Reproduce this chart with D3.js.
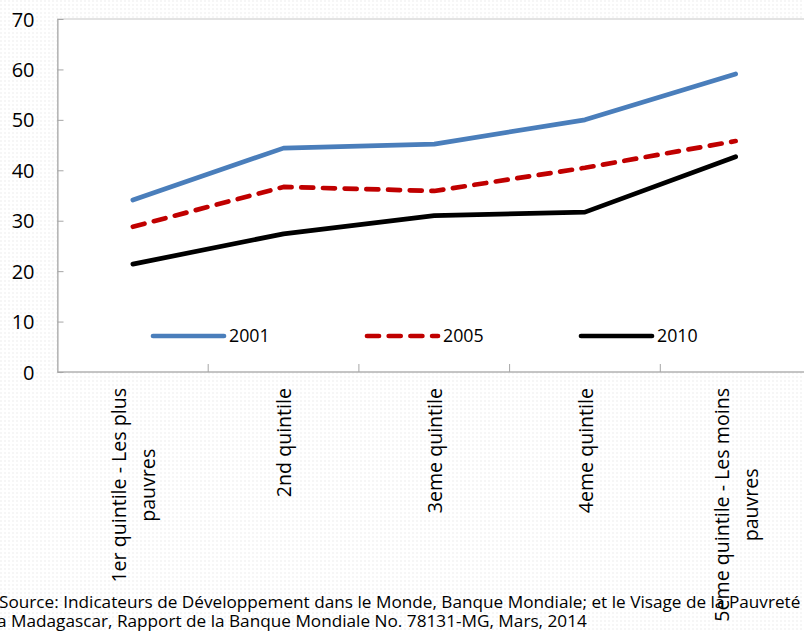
<!DOCTYPE html>
<html>
<head>
<meta charset="utf-8">
<script src="https://cdn.jsdelivr.net/npm/d3@7.9.0/dist/d3.min.js"></script>
<style>
  body { margin: 0; overflow: hidden; background: #fff; }
  svg { display: block; font-family: "Open Sans", sans-serif; }
</style>
</head>
<body>
<svg id="chart" width="804" height="631"></svg>
<script>
// categories (multi-line labels split on \n)
const categories = [
  '1er quintile - Les plus\npauvres',
  '2nd quintile',
  '3eme quintile',
  '4eme quintile',
  '5eme quintile - Les moins\npauvres'
];
const years = ['2001', '2005', '2010'];
const values2001 = [34.1, 44.4, 45.2, 50.0, 59.1];
const values2005 = [28.8, 36.7, 35.9, 40.5, 45.8];
const values2010 = [21.4, 27.4, 31.0, 31.7, 42.7];
const yTicks = [0, 10, 20, 30, 40, 50, 60, 70];
const sourceLines = [
  'Source: Indicateurs de Développement dans le Monde, Banque Mondiale; et le Visage de la Pauvreté',
  'a Madagascar, Rapport de la Banque Mondiale No. 78131-MG, Mars, 2014'
];

const series = [
  { name: years[0], values: values2001, color: '#4a7ebb', dash: null },
  { name: years[1], values: values2005, color: '#c00000', dash: '12 9.7' },
  { name: years[2], values: values2010, color: '#000000', dash: null }
];

const svg = d3.select('#chart');

// faint textured background
const defs = svg.append('defs');
const pat = defs.append('pattern')
  .attr('id', 'bg').attr('width', 4).attr('height', 4)
  .attr('patternUnits', 'userSpaceOnUse');
pat.append('rect').attr('width', 4).attr('height', 4).attr('fill', '#fff');
pat.append('rect').attr('width', 2).attr('height', 2).attr('fill', '#f6f6f6');
svg.append('rect').attr('width', 804).attr('height', 631).attr('fill', 'url(#bg)');

// plot area
const plotLeft = 57.5, plotRight = 811, plotTop = 19, plotBottom = 372;

const x = d3.scaleBand().domain(categories).range([plotLeft, plotRight]);
const y = d3.scaleLinear().domain([0, 70]).range([plotBottom, plotTop]);

svg.append('rect')
  .attr('x', plotLeft).attr('y', plotTop)
  .attr('width', plotRight - plotLeft).attr('height', plotBottom - plotTop)
  .attr('fill', '#fff').attr('stroke', '#c8c8c8');

// source text (drawn under the category labels)
svg.append('g')
  .selectAll('text')
  .data(sourceLines)
  .join('text')
  .attr('x', (d, i) => i === 0 ? -1 : -3)
  .attr('y', (d, i) => 608 + i * 18.5)
  .attr('font-size', 17.2)
  .attr('fill', '#000')
  .text(d => d);

// y axis
const yAxis = svg.append('g')
  .attr('transform', `translate(${plotLeft},0)`)
  .call(d3.axisLeft(y).tickValues(yTicks).tickSize(-6).tickPadding(23).tickSizeOuter(0));
yAxis.select('.domain').attr('stroke', '#a6a6a6');
yAxis.selectAll('.tick line').attr('stroke', '#a6a6a6');
yAxis.selectAll('.tick text')
  .attr('font-size', 20).attr('fill', '#000')
  .attr('font-family', '"Open Sans", sans-serif')
  .attr('dy', '0.35em');

// x axis: ticks on band boundaries
const xAxis = svg.append('g')
  .attr('transform', `translate(0,${plotBottom})`);
xAxis.append('line')
  .attr('x1', plotLeft).attr('x2', 804)
  .attr('y1', 0).attr('y2', 0)
  .attr('stroke', '#a6a6a6');
xAxis.selectAll('line.tick')
  .data(categories.slice(1))
  .join('line')
  .attr('class', 'tick')
  .attr('x1', d => x(d)).attr('x2', d => x(d))
  .attr('y1', -8).attr('y2', 0)
  .attr('stroke', '#a6a6a6');

// rotated category labels, block top-aligned under the axis
const labelTop = 388, lineGap = 29, catFont = 19.6;
categories.forEach(cat => {
  const lines = cat.split('\n');
  const g = svg.append('g');
  const texts = lines.map((ln, i) => g.append('text')
    .attr('font-size', catFont)
    .attr('fill', '#000')
    .attr('text-anchor', 'middle')
    .text(ln));
  const maxLen = d3.max(texts, t => t.node().getComputedTextLength());
  const cx = x(cat) + x.bandwidth() / 2 + 1;
  const cy = labelTop + maxLen / 2;
  texts.forEach((t, i) => {
    const off = (i - (lines.length - 1) / 2) * lineGap;
    t.attr('transform', `translate(${cx + off},${cy}) rotate(-90)`)
      .attr('dy', '0.35em');
  });
});

// lines
const line = d3.line()
  .x((d, i) => x(categories[i]) + x.bandwidth() / 2)
  .y(d => y(d));

svg.append('g')
  .selectAll('path')
  .data(series)
  .join('path')
  .attr('d', d => line(d.values))
  .attr('fill', 'none')
  .attr('stroke', d => d.color)
  .attr('stroke-width', 4.7)
  .attr('stroke-linejoin', 'round')
  .attr('stroke-linecap', 'round')
  .attr('stroke-dasharray', d => d.dash);

// legend inside the plot
const legendX = [153, 367, 581];
const legend = svg.append('g')
  .selectAll('g')
  .data(series)
  .join('g')
  .attr('transform', (d, i) => `translate(${legendX[i]},336)`);
legend.append('line')
  .attr('x1', 0).attr('x2', 71)
  .attr('stroke', d => d.color)
  .attr('stroke-width', 4.7)
  .attr('stroke-linecap', 'round')
  .attr('stroke-dasharray', d => d.dash);
legend.append('text')
  .attr('x', 76)
  .attr('dy', '0.35em')
  .attr('font-size', 17.8)
  .attr('fill', '#000')
  .text(d => d.name);
</script>
</body>
</html>
